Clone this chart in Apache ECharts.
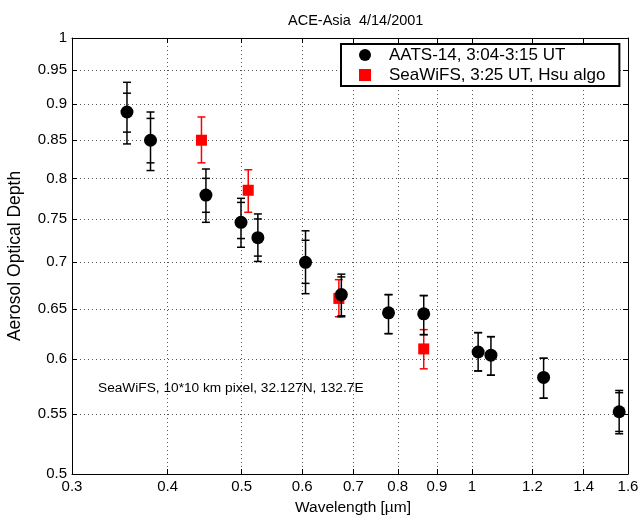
<!DOCTYPE html>
<html>
<head>
<meta charset="utf-8">
<script src="https://cdn.jsdelivr.net/npm/echarts@6/dist/echarts.min.js"></script>
<style>html,body{margin:0;padding:0;background:#fff}#c{width:642px;height:520px}</style>
</head>
<body>
<div id="c"></div>
<script>
// AATS-14 sun photometer
var aatsWl = [0.354, 0.380, 0.449, 0.499, 0.525, 0.606, 0.675, 0.778, 0.865, 1.019, 1.059, 1.241, 1.558];
var aatsAod = [0.889, 0.850, 0.779, 0.746, 0.728, 0.700, 0.665, 0.646, 0.645, 0.607, 0.604, 0.583, 0.552];
var aatsLoOuter = [0.845, 0.810, 0.746, 0.717, 0.701, 0.666, 0.642, 0.625, 0.624, 0.589, 0.585, 0.564, 0.533];
var aatsHiOuter = [0.932, 0.889, 0.812, 0.775, 0.756, 0.736, 0.687, 0.665, 0.664, 0.626, 0.622, 0.601, 0.571];
var aatsLoInner = [0.861, 0.820, 0.758, 0.727, 0.707, 0.677, 0.643, 0.625, 0.624, 0.589, 0.585, 0.564, 0.535];
var aatsHiInner = [0.916, 0.880, 0.800, 0.770, 0.750, 0.725, 0.684, 0.665, 0.664, 0.626, 0.622, 0.601, 0.569];
// SeaWiFS
var seaWl = [0.443, 0.510, 0.670, 0.865];
var seaAod = [0.850, 0.785, 0.661, 0.610];
var seaLo = [0.820, 0.758, 0.642, 0.591];
var seaHi = [0.882, 0.811, 0.681, 0.629];
// ticks
var xTicks = [0.3, 0.4, 0.5, 0.6, 0.7, 0.8, 0.9, 1, 1.2, 1.4, 1.6];
var yTicks = [0.5, 0.55, 0.6, 0.65, 0.7, 0.75, 0.8, 0.85, 0.9, 0.95, 1];

var nameA = 'AATS-14, 3:04-3:15 UT';
var nameS = 'SeaWiFS, 3:25 UT, Hsu algo';
var FONT = 'Liberation Sans, Arial, sans-serif';

function fmt(v) { return String(+(+v).toFixed(2)); }

function errItem(color, halfCap, lw) {
  return function (params, api) {
    var x = api.value(0);
    var children = [];
    var pairs = [[api.value(1), api.value(2)], [api.value(3), api.value(4)]];
    pairs.forEach(function (pr, k) {
      if (isNaN(pr[0])) return;
      var a = api.coord([x, pr[0]]);
      var b = api.coord([x, pr[1]]);
      if (k === 0) {
        children.push({ type: 'line', shape: { x1: a[0], y1: a[1], x2: b[0], y2: b[1] }, style: { stroke: color, lineWidth: lw } });
      }
      children.push({ type: 'line', shape: { x1: a[0] - halfCap, y1: a[1], x2: a[0] + halfCap, y2: a[1] }, style: { stroke: color, lineWidth: lw } });
      children.push({ type: 'line', shape: { x1: b[0] - halfCap, y1: b[1], x2: b[0] + halfCap, y2: b[1] }, style: { stroke: color, lineWidth: lw } });
    });
    return { type: 'group', children: children };
  };
}

var aatsErr = aatsWl.map(function (w, i) { return [w, aatsLoOuter[i], aatsHiOuter[i], aatsLoInner[i], aatsHiInner[i]]; });
var seaErr = seaWl.map(function (w, i) { return [w, seaLo[i], seaHi[i], NaN, NaN]; });
var aatsPts = aatsWl.map(function (w, i) { return [w, aatsAod[i]]; });
var seaPts = seaWl.map(function (w, i) { return [w, seaAod[i]]; });

var gridLine = { show: true, lineStyle: { color: '#555', width: 1, type: [1, 3] } };
function xAx(pos, main) {
  return {
    type: 'log', logBase: 10, min: 0.3, max: 1.6, position: pos,
    axisLine: { show: true, onZero: false, lineStyle: { color: '#000', width: 1 } },
    axisTick: { show: true, inside: true, length: 5, customValues: xTicks, lineStyle: { color: '#000' } },
    axisLabel: { show: main, customValues: xTicks, formatter: fmt, color: '#000', fontSize: 15, fontFamily: FONT, margin: 5, showMinLabel: true, showMaxLabel: true, hideOverlap: false },
    splitLine: main ? gridLine : { show: false },
    minorTick: { show: false }, minorSplitLine: { show: false },
    name: main ? 'Wavelength [\u00b5m]' : '', nameLocation: 'middle', nameGap: 26,
    nameTextStyle: { color: '#000', fontSize: 15.5, fontFamily: FONT, padding: [0, 0, 0, 6] }
  };
}
function yAx(pos, main) {
  return {
    type: 'log', logBase: 10, min: 0.5, max: 1, position: pos,
    axisLine: { show: true, onZero: false, lineStyle: { color: '#000', width: 1 } },
    axisTick: { show: true, inside: true, length: 5, customValues: yTicks, lineStyle: { color: '#000' } },
    axisLabel: { show: main, customValues: yTicks, formatter: fmt, color: '#000', fontSize: 15, fontFamily: FONT, margin: 5, showMinLabel: true, showMaxLabel: true, hideOverlap: false },
    splitLine: main ? gridLine : { show: false },
    minorTick: { show: false }, minorSplitLine: { show: false },
    name: main ? 'Aerosol Optical Depth' : '', nameLocation: 'middle', nameGap: 48, nameRotate: 90,
    nameTextStyle: { color: '#000', fontSize: 17.5, fontFamily: FONT }
  };
}

var chart = echarts.init(document.getElementById('c'), null, { renderer: 'canvas' });
chart.setOption({
  animation: false,
  backgroundColor: '#fff',
  textStyle: { fontFamily: FONT },
  title: { text: 'ACE-Asia  4/14/2001', left: 283, top: 8, textStyle: { fontSize: 14.5, fontWeight: 'normal', color: '#000', fontFamily: FONT } },
  grid: { left: 72, right: 14, top: 38, bottom: 46, outerBoundsMode: 'none', containLabel: false },
  xAxis: [xAx('bottom', true), xAx('top', false)],
  yAxis: [yAx('left', true), yAx('right', false)],
  legend: {
    orient: 'vertical', left: 341, top: 44,
    padding: [2, 14, 2, 18], itemGap: 2, itemWidth: 12, itemHeight: 12,
    borderColor: '#000', borderWidth: 2, backgroundColor: '#fff', borderRadius: 0,
    textStyle: { fontSize: 17, color: '#000', fontFamily: FONT, padding: [0, 0, 0, 13], lineHeight: 18 },
    data: [{ name: nameA, icon: 'circle' }, { name: nameS, icon: 'rect' }]
  },
  graphic: [{ type: 'text', left: 98, top: 381, style: { text: 'SeaWiFS, 10*10 km pixel, 32.127N, 132.7E', fill: '#000', font: '13.7px ' + FONT } }],
  series: [
    { type: 'custom', name: 'seaErr', xAxisIndex: 0, yAxisIndex: 0, data: seaErr, renderItem: errItem('#f00', 4, 1.5), encode: { x: 0, y: [1, 2] }, z: 2, silent: true },
    { type: 'scatter', name: nameS, xAxisIndex: 0, yAxisIndex: 0, data: seaPts, symbol: 'rect', symbolSize: 11, itemStyle: { color: '#f00', opacity: 1 }, z: 3 },
    { type: 'custom', name: 'aatsErr', xAxisIndex: 0, yAxisIndex: 0, data: aatsErr, renderItem: errItem('#000', 4, 1.5), encode: { x: 0, y: [1, 2] }, z: 4, silent: true },
    { type: 'scatter', name: nameA, xAxisIndex: 0, yAxisIndex: 0, data: aatsPts, symbol: 'circle', symbolSize: 13, itemStyle: { color: '#000', opacity: 1 }, z: 5 }
  ]
});
</script>
</body>
</html>
